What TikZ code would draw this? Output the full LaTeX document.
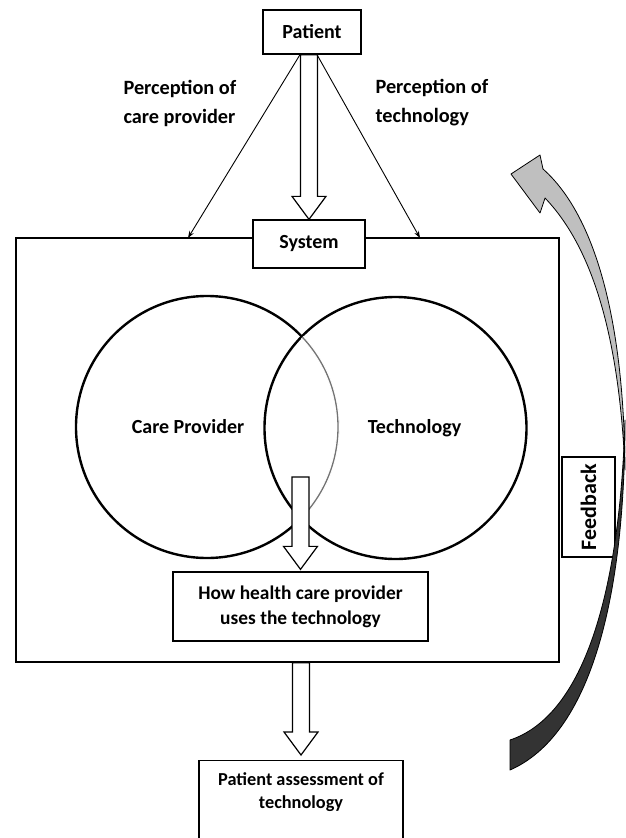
\documentclass[tikz,border=0pt]{standalone}
\usepackage{fontspec}
\setmainfont{Carlito}
\usetikzlibrary{calc,arrows.meta}
\def\txt{\fontsize{20}{24}\selectfont\bfseries}
\def\blockdown#1#2{\draw[hollow] let \p1=#1, \p2=#2 in
  (\x2-8.5pt,\y1) -- (\x2-8.5pt,\y2+23pt) -- (\x2-17pt,\y2+23pt) -- (\x2,\y2)
  -- (\x2+17pt,\y2+23pt) -- (\x2+8.5pt,\y2+23pt) -- (\x2+8.5pt,\y1) -- cycle;}
\tikzset{
  box/.style={draw,line width=1.3pt,fill=white,inner sep=0pt,align=center,font=\txt},
  ring/.style={draw,circle,line width=2.4pt,minimum size=262pt,inner sep=0pt,outer sep=0pt},
  hollow/.style={draw,fill=white,line width=1.2pt,line join=miter},
  thinarrow/.style={line width=0.9pt,-{Stealth[length=7pt,width=5pt]}},
  ribbon/.style={draw=black,line width=0.8pt,line join=round},
}
\begin{document}
\begin{tikzpicture}[x=1pt,y=-1pt]
\useasboundingbox (0,0) rectangle (625,838);
\node[draw,line width=1.3pt,minimum width=543pt,minimum height=424pt] (frame) at (287.5,450) {};
\node[box,minimum width=98pt,minimum height=44pt] (patient) at (312,32) {Patient};
\node[font={\fontsize{20.3}{29}\selectfont\bfseries},align=left,anchor=west] (percare) at (120,103) {Perception of\\care provider};
\node[font={\fontsize{20.3}{29}\selectfont\bfseries},align=left,anchor=west] (pertech) at (372,103) {Perception of\\technology};
\coordinate (carein) at (188,238);
\coordinate (techin) at (420,238);
\draw[thinarrow] ([xshift=-12pt]patient.south) -- (carein);
\draw[thinarrow] ([xshift=5pt]patient.south) -- (techin);
\node[box,minimum width=112pt,minimum height=48pt] (system) at (309,244) {System};
\blockdown{(patient.south)}{(system.north)}
% the two circles
\node[ring,label={[font=\txt,xshift=-19pt]center:Care Provider}] (care) at (207,427) {};
\node[ring,label={[font=\txt,xshift=19pt]center:Technology}] (tech) at (395.5,428) {};
\begin{scope}
  \clip (tech.center) circle (130);
  \draw[white,line width=3.6pt] (care.center) circle (131);
  \draw[black!55,line width=1.3pt] (care.center) circle (131);
\end{scope}
\node[box,minimum width=255pt,minimum height=69pt,font={\fontsize{19.4}{25}\selectfont\bfseries}] (how) at (300.5,606.5) {How health care provider\\uses the technology};
\coordinate (lens) at (300.5,477);
\blockdown{(lens)}{([yshift=2pt]how.north)}
\node[box,minimum width=204pt,minimum height=90pt,anchor=north] (assess) at (301,760) {};
\node[font={\fontsize{18.3}{23}\selectfont\bfseries},align=center] (assesstext) at (301,792) {Patient assessment of\\technology};
\blockdown{(frame.south)}{([yshift=5pt]assess.north)}
% feedback
\node[box,rotate=90,minimum width=100pt,minimum height=53pt,font={\fontsize{22}{24}\selectfont\bfseries}] (feedback) at (588.5,507) {Feedback};
\filldraw[ribbon,fill=black!80] (510,740) -- (510,770) .. controls (590,735) and (625,600) .. (625,420)
  .. controls (620,590) and (585,715) .. (510,740) -- cycle;
\filldraw[ribbon,fill=black!25] (511,174) -- (540,155) -- (543,169) .. controls (595,215) and (624,320) .. (625,470)
  .. controls (619,330) and (590,245) .. (545,198) -- (540,213) -- cycle;
\end{tikzpicture}
\end{document}
